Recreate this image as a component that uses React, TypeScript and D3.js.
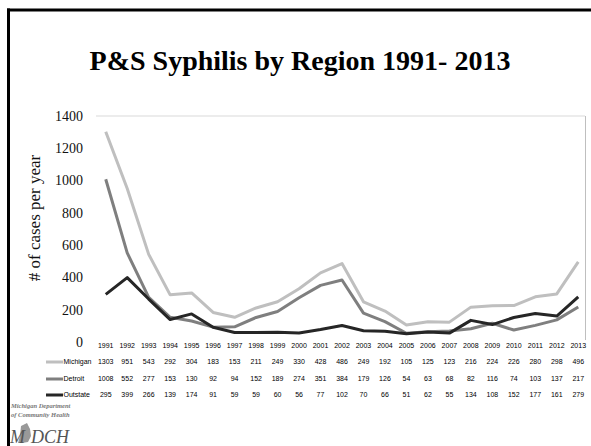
import React from "react";
import * as d3 from "d3";

const years = ["1991","1992","1993","1994","1995","1996","1997","1998","1999","2000","2001","2002","2003","2004","2005","2006","2007","2008","2009","2010","2011","2012","2013"];
const michigan = [1303,951,543,292,304,183,153,211,249,330,428,486,249,192,105,125,123,216,224,226,280,298,496];
const detroit = [1008,552,277,153,130,92,94,152,189,274,351,384,179,126,54,63,68,82,116,74,103,137,217];
const outstate = [295,399,266,139,174,91,59,59,60,56,77,102,70,66,51,62,55,134,108,152,177,161,279];
const yTicks = [0,200,400,600,800,1000,1200,1400];

const seriesNames = ["Michigan","Detroit","Outstate"];
const seriesColors = ["#bfbfbf","#7f7f7f","#262626"];

export default function App() {
  const W = 591, H = 446;
  const x = d3.scaleBand<string>().domain(years).range([95, 589]);
  const y = d3.scaleLinear().domain([0, 1400]).range([342, 116]);
  const cx = (yr: string) => (x(yr) as number) + x.bandwidth() / 2;
  const line = d3.line<number>().x((_, i) => cx(years[i])).y((v) => y(v));
  const data = [michigan, detroit, outstate];
  const rowY = [362, 379, 395];
  const serif = "'Liberation Serif', 'Times New Roman', serif";
  const sans = "'Liberation Sans', Arial, sans-serif";

  return (
    <svg width={W} height={H} style={{ position: "absolute", left: 0, top: 0 }}>
      <rect x={0} y={0} width={W} height={H} fill="#fff" />
      {/* frame */}
      <line x1={7} y1={10} x2={W} y2={10} stroke="#000" strokeWidth={3} />
      <line x1={8.5} y1={8.5} x2={8.5} y2={H} stroke="#000" strokeWidth={3} />
      {/* title */}
      <text x={300} y={70} textAnchor="middle" fontFamily={serif} fontWeight="bold" fontSize={28}>
        P&amp;S Syphilis by Region 1991- 2013
      </text>
      {/* grid top and right border */}
      <line x1={96} y1={y(1400)} x2={585} y2={y(1400)} stroke="#d9d9d9" strokeWidth={1} />
      <line x1={585.5} y1={y(1400)} x2={585.5} y2={340} stroke="#bfbfbf" strokeWidth={1} />
      {/* y ticks */}
      {yTicks.map((t) => (
        <text key={t} x={83} y={y(t)} dy="0.35em" textAnchor="end" fontFamily={serif} fontSize={14} fill="#111">
          {t}
        </text>
      ))}
      {/* y label */}
      <text transform="translate(40,218) rotate(-90)" textAnchor="middle" fontFamily={serif} fontSize={17} fill="#111">
        # of cases per year
      </text>
      {/* lines */}
      {data.map((d, i) => (
        <path key={i} d={line(d) || ""} fill="none" stroke={seriesColors[i]} strokeWidth={3} strokeLinejoin="round" />
      ))}
      {/* data table */}
      {years.map((yr) => (
        <text key={yr} x={cx(yr)} y={346} dy="0.35em" textAnchor="middle" fontFamily={sans} fontSize={7} fill="#000">
          {yr}
        </text>
      ))}
      {data.map((d, i) => (
        <g key={i}>
          <line x1={46} y1={rowY[i]} x2={63} y2={rowY[i]} stroke={seriesColors[i]} strokeWidth={3} />
          <text x={63.5} y={rowY[i]} dy="0.35em" fontFamily={sans} fontSize={7} fill="#000">
            {seriesNames[i]}
          </text>
          {d.map((v, j) => (
            <text key={j} x={cx(years[j])} y={rowY[i]} dy="0.35em" textAnchor="middle" fontFamily={sans} fontSize={7} fill="#000">
              {v}
            </text>
          ))}
        </g>
      ))}
      {/* logo */}
      <text x={11} y={408} fontFamily={serif} fontStyle="italic" fontWeight="bold" fontSize={6.5} fill="#777">
        Michigan Department
      </text>
      <text x={11} y={417} fontFamily={serif} fontStyle="italic" fontWeight="bold" fontSize={6.5} fill="#777">
        of Community Health
      </text>
      <path d="M21,426 L27,423 L30,429 L31,436 L28,442 L22,443 L18,443 L20,436 Z" fill="#999" />
      <text x={10} y={443} fontFamily={serif} fontStyle="italic" fontSize={18} fill="#555">
        M
      </text>
      <text x={31} y={443} fontFamily={serif} fontStyle="italic" fontSize={18} fill="#555">
        DCH
      </text>
    </svg>
  );
}
